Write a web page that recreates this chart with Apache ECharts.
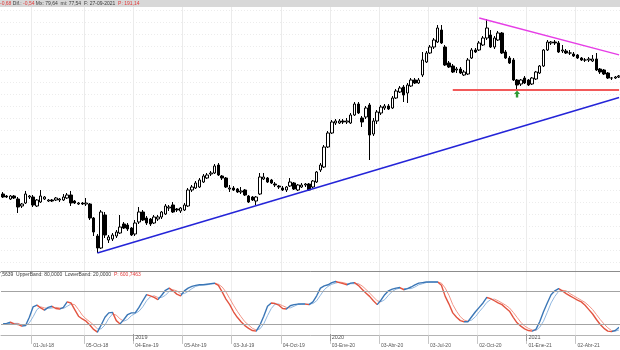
<!DOCTYPE html>
<html>
<head>
<meta charset="utf-8">
<style>
  html, body { margin: 0; padding: 0; background: #ffffff; }
  #chart { width: 620px; height: 350px; }
</style>
<script src="https://cdn.jsdelivr.net/npm/echarts@6.0.0/dist/echarts.min.js"></script>
</head>
<body>
<div id="chart"></div>
<script>
// Weekly bars, one per Friday, starting 4 May 2018
const firstWeek = Date.UTC(2018, 4, 4);
const weekCount = 164;
const categories = [];
for (let i = 0; i < weekCount; i++) {
  categories.push(new Date(firstWeek + i * 7 * 86400000).toISOString().slice(0, 10));
}

// Weekly candles: [open, close, low, high]
const candles = [
  [52, 50.5, 50, 53], [51, 50.5, 50, 51.5], [49.5, 51, 49, 51.5], [51, 50, 49.5, 51.5],
  [49.5, 45.5, 42.5, 50.5], [46, 47, 45, 47.5], [47.5, 52, 47, 53.5], [50.5, 51, 49.5, 51.5],
  [50.5, 46.5, 45.5, 51.5], [46, 49, 45.5, 49.5], [48, 51, 47.5, 54], [49.5, 50.5, 49, 51],
  [48.5, 49, 48, 49.5], [49, 48.5, 48, 49.5], [49, 50, 48.5, 50.5], [49, 49.5, 48, 50],
  [49, 50.5, 48.5, 52], [50, 51.5, 49.5, 52.5], [51.5, 47.5, 46, 53.5], [48.5, 47.5, 47, 49],
  [47, 47.5, 46.5, 48], [47.5, 47, 46.5, 48], [47, 47.5, 46, 50], [47, 40, 39, 47.5],
  [40, 33, 31, 40.5], [31, 25, 22.5, 32], [25, 43, 24.5, 44], [41.5, 31.5, 30, 43],
  [29, 30.5, 27.5, 31.5], [29.5, 31.5, 28.5, 32.5], [31, 33, 30, 34], [32.5, 35.5, 32, 41.5],
  [37, 35, 34.5, 38], [36.5, 34.5, 33.5, 37.5], [35, 31.5, 31, 35.5], [32, 37.5, 31, 39],
  [38, 43, 37, 45.5], [43, 39, 38.5, 44], [40, 37.5, 36.5, 41], [39.5, 37, 36, 40],
  [37.5, 40.5, 37, 41.5], [39.5, 40.5, 38.5, 41.5], [40.5, 43, 39.5, 43.5], [42, 46, 41.5, 47],
  [45, 45.5, 43.5, 46.5], [46.5, 43, 42.5, 48], [44.5, 44, 43, 45], [43.5, 45, 42.5, 45.5],
  [44, 46.5, 43.5, 47.5], [46, 54, 45.5, 55], [54, 55.5, 53, 56.5], [55, 57.5, 54.5, 58.5],
  [55.5, 59, 55, 60], [58, 61, 57.5, 62], [60, 61.5, 59.5, 62.5], [62, 62.5, 61, 63.5],
  [62.5, 66, 62, 67], [66.5, 61.5, 61, 67.5], [61, 60, 59, 61.5], [60, 55.5, 55, 60.5],
  [54.5, 55, 53, 56.5], [55, 54, 53.5, 56], [54.5, 53, 52.5, 55], [53, 53.5, 52, 55.5],
  [54, 51.5, 51, 54.5], [51, 48, 47.5, 51.5], [50.5, 49, 48.5, 51], [48.5, 50.5, 46.5, 51],
  [52, 60.5, 51.5, 62.5], [59.5, 60.5, 59, 62.5], [60, 58, 57.5, 60.5], [59, 57.5, 57, 59.5],
  [57, 56.5, 55.5, 58], [56, 55.5, 54.5, 56.5], [55, 54, 53.5, 56], [54, 55.5, 53, 56],
  [56, 58, 55.5, 60], [57.5, 54.5, 54, 58], [54, 56.5, 53.5, 57], [55.5, 56.5, 55, 57.5],
  [56.5, 57, 55.5, 57.5], [57, 54, 53.5, 57.5], [55.5, 58.5, 55, 59], [58, 63, 57.5, 63.5],
  [64, 66.5, 63, 67.5], [65.5, 75.5, 65, 76.5], [75.5, 82.5, 75, 83.5], [82.5, 88, 82, 89],
  [87.5, 88.5, 86.5, 89.5], [87.5, 88.5, 87, 89.5], [88.5, 88, 87, 89.5], [88, 88.5, 87, 90],
  [87.5, 91.5, 87, 92.5], [91.5, 97, 91, 98], [97, 92.5, 92, 98], [90, 88, 85.5, 91],
  [90.5, 95, 89.5, 96], [96.5, 81.5, 69, 97.5], [82, 88.5, 81, 90], [88.5, 93, 87, 94],
  [92.5, 95.5, 91.5, 96.5], [95, 96, 94, 97], [96, 94.5, 94, 97], [95, 100, 94.5, 101],
  [100, 103.5, 99.5, 104.5], [103, 105, 102.5, 106], [105.5, 101.5, 98, 106.5], [102.5, 106.5, 97.5, 107.5],
  [106, 109, 105.5, 110], [109, 107.5, 107, 110], [107.5, 109, 107, 110], [111.5, 119, 110.5, 123],
  [118, 122.5, 117.5, 123.5], [122.5, 125.5, 122, 126.5], [125.5, 129, 124.5, 130], [128, 135, 127.5, 136.5],
  [134, 127.5, 127, 136.5], [125.5, 116.5, 116, 126.5], [117.5, 115.5, 115, 118.5], [116, 113, 112.5, 117],
  [114, 114.5, 112.5, 115.5], [114.5, 112.5, 112, 115.5], [111.5, 113, 111, 114], [112, 119, 111.5, 120],
  [120, 124, 119.5, 125], [124, 123, 122.5, 125], [124, 127.5, 123.5, 128.5], [126.5, 130, 126, 131],
  [130, 135, 129, 139.5], [131.5, 125.5, 125, 134], [125.5, 130, 124.5, 131], [129, 132.5, 128.5, 133.5],
  [132.5, 122.5, 122, 133], [123, 120, 119.5, 124], [120, 117.5, 117, 121], [119, 109, 108.5, 120],
  [109, 106.5, 104.5, 109.5], [107, 109, 106, 109.5], [110, 107.5, 107, 111], [109, 106.5, 106, 109.5],
  [107, 110, 106.5, 110.5], [109.5, 113, 109, 113.5], [112.5, 116, 112, 116.5], [116, 124, 115.5, 124.5],
  [124, 128, 123.5, 129], [127.5, 128, 126.5, 128.5], [128, 127.5, 126.5, 129], [127.5, 123, 122.5, 128.5],
  [123.5, 124, 122.5, 126.5], [123.5, 122.5, 122, 124.5], [122.5, 122.5, 121.5, 124], [122, 121, 120.5, 123],
  [121.5, 120, 119.5, 122], [120, 119, 118.5, 120.5], [119, 119, 118, 120], [119, 119.5, 118, 120.5],
  [118.5, 119.5, 118, 121.5], [119.5, 114, 113.5, 122.5], [114.5, 113, 112, 115], [114, 112, 111.5, 114.5],
  [112.5, 110, 109.5, 113], [110, 110, 109, 110.5], [110, 110.5, 109.5, 111], [110.5, 111, 110, 111.5]
];

// Stochastic oscillator, %K and %D
const stochK = [
  20, 21, 23, 20, 19, 16, 17, 32, 51, 54,
  49, 45, 50, 52, 48, 47, 50, 60, 58, 46,
  34, 29, 25, 18, 10, 5, 18, 32, 40, 41,
  26, 20, 28, 37, 40, 40, 50, 62, 73, 71,
  68, 64, 72, 81, 85, 80, 74, 71, 80, 85,
  88, 90, 91, 91, 92, 93, 94, 90, 78, 65,
  55, 42, 32, 24, 17, 12, 8, 7, 18, 34,
  52, 58, 57, 54, 48, 47, 53, 55, 56, 56,
  56, 55, 60, 71, 85, 89, 91, 95, 97, 95,
  93, 91, 94, 95, 90, 83, 76, 70, 62, 55,
  63, 73, 80, 83, 85, 86, 82, 84, 87, 91,
  94, 95, 96, 96, 96, 96, 90, 70, 56, 40,
  32, 26, 24, 24, 33, 42, 50, 58, 68, 66,
  62, 58, 55, 49, 43, 32, 22, 16, 11, 8,
  7, 10, 24, 42, 58, 73, 80, 84, 80, 75,
  71, 67, 63, 60, 54, 46, 38, 28, 19, 12,
  7, 6, 8, 14
];
const stochD = [
  20, 20, 21, 21, 21, 18, 17, 22, 33, 46,
  51, 49, 48, 49, 50, 49, 48, 52, 56, 55,
  46, 36, 29, 24, 18, 11, 11, 18, 30, 38,
  36, 29, 25, 28, 35, 39, 43, 51, 62, 69,
  71, 68, 68, 72, 79, 82, 80, 75, 75, 79,
  84, 88, 90, 91, 91, 92, 93, 92, 87, 78,
  66, 54, 43, 33, 24, 18, 12, 9, 11, 20,
  35, 48, 56, 56, 53, 50, 49, 52, 55, 56,
  56, 56, 57, 62, 72, 82, 88, 92, 94, 96,
  95, 93, 93, 93, 93, 89, 83, 76, 69, 62,
  60, 64, 72, 79, 83, 85, 84, 84, 84, 87,
  91, 93, 95, 96, 96, 96, 94, 85, 72, 55,
  43, 33, 27, 25, 27, 33, 42, 50, 59, 64,
  65, 62, 58, 54, 49, 41, 32, 23, 16, 12,
  9, 8, 14, 25, 41, 58, 70, 79, 81, 80,
  75, 71, 67, 63, 59, 53, 46, 37, 28, 20,
  13, 8, 7, 9
];
const stochBands = [80, 20];

// Quarter ticks on the time axis
const tickDates = ['2018-06-29', '2018-10-05', '2019-01-04', '2019-04-05', '2019-07-05', '2019-10-04',
                   '2020-01-03', '2020-04-03', '2020-07-03', '2020-10-02', '2021-01-01', '2021-04-02'];
const tickLabels = ['01-Jul-18', '05-Oct-18', '04-Ene-19', '05-Abr-19', '03-Jul-19', '04-Oct-19',
                    '03-Ene-20', '03-Abr-20', '03-Jul-20', '02-Oct-20', '01-Ene-21', '02-Abr-21'];
const yearDates = ['2019-01-04', '2020-01-03', '2021-01-01'];
const yearLabels = ['2019', '2020', '2021'];

// Drawn studies: support, resistance and horizontal level
const supportLine = [['2018-10-26', 22.5], ['2021-06-18', 100.2]];
const resistanceLine = [['2020-10-02', 140], ['2021-06-18', 121.6]];
const levelLine = [['2020-08-14', 104], ['2021-06-18', 104]];
const signalPoint = ['2020-12-11', 102];

const FONT = 'Liberation Sans';
const isTick = (idx, val) => tickDates.indexOf(val) >= 0;
const isYear = (idx, val) => yearDates.indexOf(val) >= 0;

// Colour each stretch of a line by whether it is rising or falling
function slopePieces(values, upColor, downColor) {
  const pieces = [];
  let runStart = 0;
  let runUp = values[1] >= values[0];
  for (let i = 2; i < values.length; i++) {
    const up = values[i] >= values[i - 1];
    if (up !== runUp) {
      pieces.push({ gte: runStart, lt: i - 1, color: runUp ? upColor : downColor });
      runStart = i - 1;
      runUp = up;
    }
  }
  pieces.push({ gte: runStart, lte: values.length - 1, color: runUp ? upColor : downColor });
  return pieces;
}

const chart = echarts.init(document.getElementById('chart'), null, { renderer: 'canvas' });

const richText = {
  r: { color: '#e23a3a', fontSize: 5, fontFamily: FONT },
  d: { color: '#3a3a3a', fontSize: 5, fontFamily: FONT }
};

const option = {
  animation: false,
  backgroundColor: '#ffffff',
  title: [
    {
      text: '{r|-0,68} {d|Dif.:} {r|-0,54} {d|Mx: 79,64  mi: 77,54  F: 27-09-2021}  {r|P: 191,14}',
      left: 0, top: 0.5, padding: 0, z: 10,
      textStyle: { fontSize: 5, fontFamily: FONT, fontWeight: 'normal', lineHeight: 6, rich: richText }
    },
    {
      text: '{d|7,5639  UpperBand: 80,0000  LowerBand: 20,0000}  {r|P: 600,7463}',
      left: -2, top: 271.5, padding: 0, z: 10,
      textStyle: { fontSize: 5, fontFamily: FONT, fontWeight: 'normal', lineHeight: 6, rich: richText }
    }
  ],
  graphic: [
    { type: 'rect', z: 5, silent: true, shape: { x: 0, y: 0, width: 620, height: 7 }, style: { fill: '#d8d8d8' } }
  ],
  grid: [
    { left: 1, right: -1, top: -2, height: 276, outerBoundsMode: 'none' },
    { left: 1, right: -1, top: 271, height: 70, outerBoundsMode: 'none' }
  ],
  xAxis: [
    {
      type: 'category', gridIndex: 0, data: categories, boundaryGap: true,
      axisLine: { show: false }, axisTick: { show: false }, axisLabel: { show: false },
      splitLine: { show: true, interval: isTick, lineStyle: { color: '#ebebeb', width: 1 } }
    },
    {
      type: 'category', gridIndex: 1, data: categories, boundaryGap: true, position: 'bottom',
      axisLine: { show: true, lineStyle: { color: '#b4b4b4', width: 1 } },
      axisTick: { show: true, interval: isTick, length: 9, lineStyle: { color: '#c6c6c6' } },
      axisLabel: {
        show: true, interval: isTick, align: 'left', margin: 2,
        fontSize: 5, fontFamily: FONT, color: '#555555',
        formatter: (v) => tickLabels[tickDates.indexOf(v)]
      },
      splitLine: { show: true, interval: isTick, lineStyle: { color: '#eeeeee', width: 1 } }
    },
    {
      type: 'category', gridIndex: 1, data: categories, boundaryGap: true, position: 'bottom',
      axisLine: { show: false },
      axisTick: { show: true, inside: true, interval: isYear, length: 7, lineStyle: { color: '#9a9a9a' } },
      axisLabel: {
        show: true, inside: true, interval: isYear, align: 'left', margin: 1,
        fontSize: 5.5, fontFamily: FONT, color: '#555555',
        formatter: (v) => yearLabels[yearDates.indexOf(v)]
      },
      splitLine: { show: false }
    },
    {
      type: 'category', gridIndex: 1, data: categories, boundaryGap: true, position: 'top',
      axisLine: { show: true, lineStyle: { color: '#8c8c8c', width: 1 } },
      axisTick: { show: false }, axisLabel: { show: false }, splitLine: { show: false }
    }
  ],
  yAxis: [
    {
      type: 'value', gridIndex: 0, min: 12, max: 150, interval: 6,
      axisLine: { show: false }, axisTick: { show: false }, axisLabel: { show: false },
      splitLine: { show: true, showMinLine: false, lineStyle: { color: '#ececec', type: [1, 2], width: 1 } }
    },
    {
      type: 'value', gridIndex: 1, min: -11, max: 116,
      axisLine: { show: false }, axisTick: { show: false }, axisLabel: { show: false },
      splitLine: { show: false }
    }
  ],
  visualMap: [
    { type: 'piecewise', show: false, seriesIndex: 1, dimension: 0, pieces: slopePieces(stochD, '#8fb6df', '#f19486') },
    { type: 'piecewise', show: false, seriesIndex: 2, dimension: 0, pieces: slopePieces(stochK, '#3a76b6', '#e2533f') }
  ],
  series: [
    {
      name: 'Precio', type: 'candlestick', xAxisIndex: 0, yAxisIndex: 0,
      data: candles, barWidth: 3,
      itemStyle: { color: '#ffffff', color0: '#000000', borderColor: '#000000', borderColor0: '#000000', borderWidth: 1 },
      markLine: {
        silent: true, symbol: ['none', 'none'], label: { show: false }, animation: false,
        data: [
          [{ coord: supportLine[0], lineStyle: { color: '#2424d8', width: 1.6, type: 'solid' } }, { coord: supportLine[1] }],
          [{ coord: resistanceLine[0], lineStyle: { color: '#e63de6', width: 1.3, type: 'solid' } }, { coord: resistanceLine[1] }],
          [{ coord: levelLine[0], lineStyle: { color: '#f25a5a', width: 2, type: 'solid' } }, { coord: levelLine[1] }]
        ]
      },
      markPoint: {
        silent: true, animation: false, label: { show: false },
        data: [{
          coord: signalPoint,
          symbol: 'path://M3,0 L6,3.5 L4.2,3.5 L4.2,7 L1.8,7 L1.8,3.5 L0,3.5 Z',
          symbolSize: [6, 7],
          itemStyle: { color: '#2f9a35' }
        }]
      }
    },
    {
      name: '%D', type: 'line', xAxisIndex: 1, yAxisIndex: 1, data: stochD,
      showSymbol: false, symbol: 'none', lineStyle: { width: 1 },
      markLine: {
        silent: true, symbol: ['none', 'none'], label: { show: false }, animation: false,
        lineStyle: { color: '#a3a3a3', width: 1.2, type: 'solid' },
        data: stochBands.map((b) => ({ yAxis: b }))
      }
    },
    {
      name: '%K', type: 'line', xAxisIndex: 1, yAxisIndex: 1, data: stochK,
      showSymbol: false, symbol: 'none', lineStyle: { width: 1.4 }
    }
  ]
};

chart.setOption(option);
</script>
</body>
</html>
